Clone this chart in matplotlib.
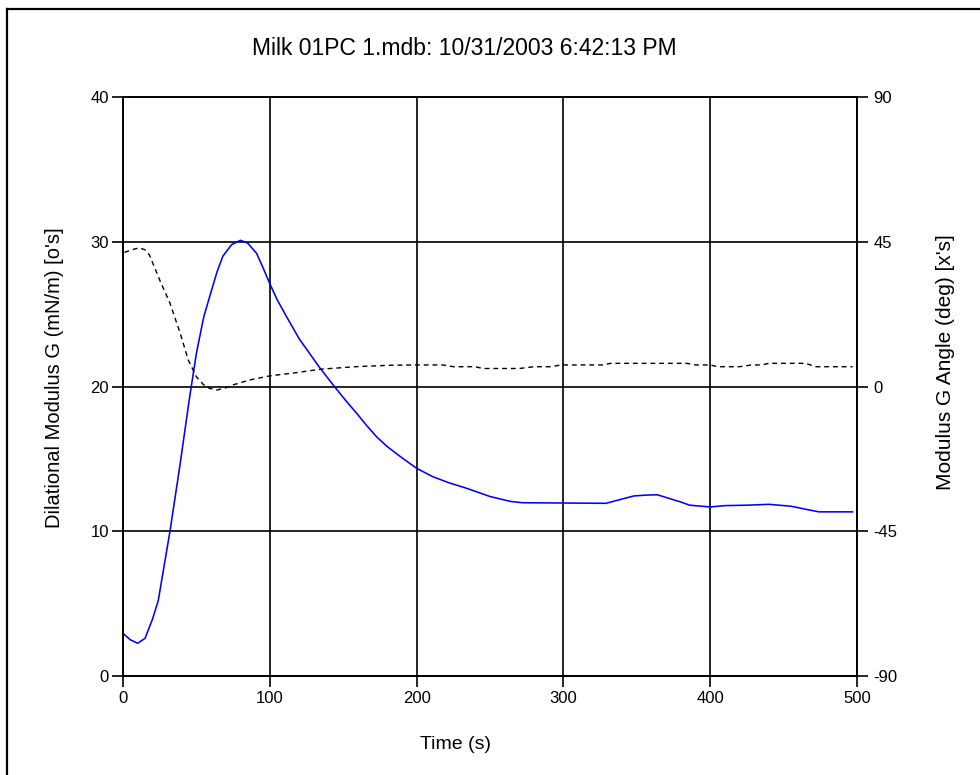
import matplotlib
matplotlib.use("Agg")
import matplotlib.pyplot as plt
from matplotlib.lines import Line2D

plt.rcParams['font.family'] = ['Liberation Sans', 'DejaVu Sans']

# Dilational modulus G (mN/m) versus time (s)
time_g = [0, 5, 10, 15, 20, 24, 27, 32, 39, 45, 50, 55, 59, 64, 68, 74, 80, 85,
          91, 95, 100, 105, 111, 120, 134, 144, 152, 160, 166, 173, 180, 189,
          200, 211, 222, 234, 250, 264, 272, 300, 329, 339, 348, 357, 364, 371,
          380, 386, 400, 410, 425, 440, 455, 466, 474, 497]
modulus = [2.95, 2.5, 2.26, 2.6, 3.9, 5.2, 7.0, 10.0, 14.7, 19.0, 22.3, 24.8,
           26.2, 27.9, 29.0, 29.8, 30.1, 29.9, 29.2, 28.3, 27.1, 26.0, 24.9,
           23.3, 21.3, 20.0, 19.0, 18.05, 17.3, 16.5, 15.85, 15.15, 14.35,
           13.77, 13.35, 12.97, 12.4, 12.06, 11.97, 11.95, 11.93, 12.2, 12.44,
           12.5, 12.52, 12.3, 12.02, 11.8, 11.68, 11.77, 11.8, 11.86, 11.73,
           11.5, 11.34, 11.34]

# Modulus phase angle (deg) versus time (s)
time_a = [1, 6, 11, 15, 18, 25, 32, 39, 44.5, 50, 55, 59, 64, 70, 75, 86, 100,
          118, 135, 160, 182, 200, 218, 225, 240, 245, 270, 280, 292, 298, 327,
          332, 384, 390, 400, 405, 420, 428, 435, 440, 465, 472, 497]
angle = [41.7, 42.5, 43.1, 42.5, 40.9, 33.1, 25.9, 16.5, 8.2, 3.0, 0.5, -0.6,
         -1.1, -0.4, 0.5, 2.0, 3.3, 4.3, 5.4, 6.2, 6.6, 6.7, 6.7, 6.15, 6.15,
         5.6, 5.6, 6.15, 6.15, 6.7, 6.7, 7.2, 7.2, 6.7, 6.7, 6.15, 6.15, 6.7,
         6.7, 7.2, 7.2, 6.15, 6.15]

x_ticks = [0, 100, 200, 300, 400, 500]
left_ticks = [0, 10, 20, 30, 40]
right_ticks = [-90, -45, 0, 45, 90]

W, H = 980, 775
fig = plt.figure(figsize=(W / 100, H / 100), dpi=100)
ax = fig.add_axes([123 / W, 1 - 676 / H, (857 - 123) / W, (676 - 97) / H])
ax2 = ax.twinx()

ax.plot(time_g, modulus, color=(0, 0, 1), lw=1.15, zorder=3)
ax2.plot(time_a, angle, color='black', lw=1.0, linestyle=(0, (3.5, 2.8)), zorder=3)

ax.set_xlim(0, 500)
ax.set_ylim(0, 40)
ax2.set_ylim(-90, 90)
ax.set_xticks(x_ticks)
ax.set_yticks(left_ticks)
ax2.set_yticks(right_ticks)
ax2.set_yticklabels([str(v) for v in right_ticks])

ax.grid(True, color='black', lw=1.2)
ax.set_axisbelow(True)
for a in (ax, ax2):
    for s in a.spines.values():
        s.set_color('black')
        s.set_linewidth(1.2)
    a.tick_params(direction='out', length=8, width=1.2, colors='black',
                  labelsize=12)
ax.tick_params(axis='y', pad=2)
ax.tick_params(axis='x', pad=3)
ax2.tick_params(axis='y', pad=4)

fig.text(456 / W, 1 - 744.5 / H, 'Time (s)', ha='center', va='center',
         fontsize=14)
fig.text(54 / W, 1 - 378 / H, "Dilational Modulus G (mN/m) [o's]",
         ha='center', va='center', rotation=90, fontsize=14.5)
fig.text(945 / W, 1 - 362.5 / H, "Modulus G Angle (deg) [x's]",
         ha='center', va='center', rotation=90, fontsize=15)

fig.text(464 / W, 1 - 48.8 / H, 'Milk 01PC 1.mdb: 10/31/2003 6:42:13 PM',
         ha='center', va='center', fontsize=16.5)

# frame edges along the top and left of the figure
fig.add_artist(Line2D([7 / W, 7 / W], [0, 1 - 9 / H], color='black',
                      lw=1.6, transform=fig.transFigure))
fig.add_artist(Line2D([7 / W, 1], [1 - 9 / H, 1 - 9 / H], color='black',
                      lw=1.6, transform=fig.transFigure))

fig.savefig('out.png', dpi=100)
